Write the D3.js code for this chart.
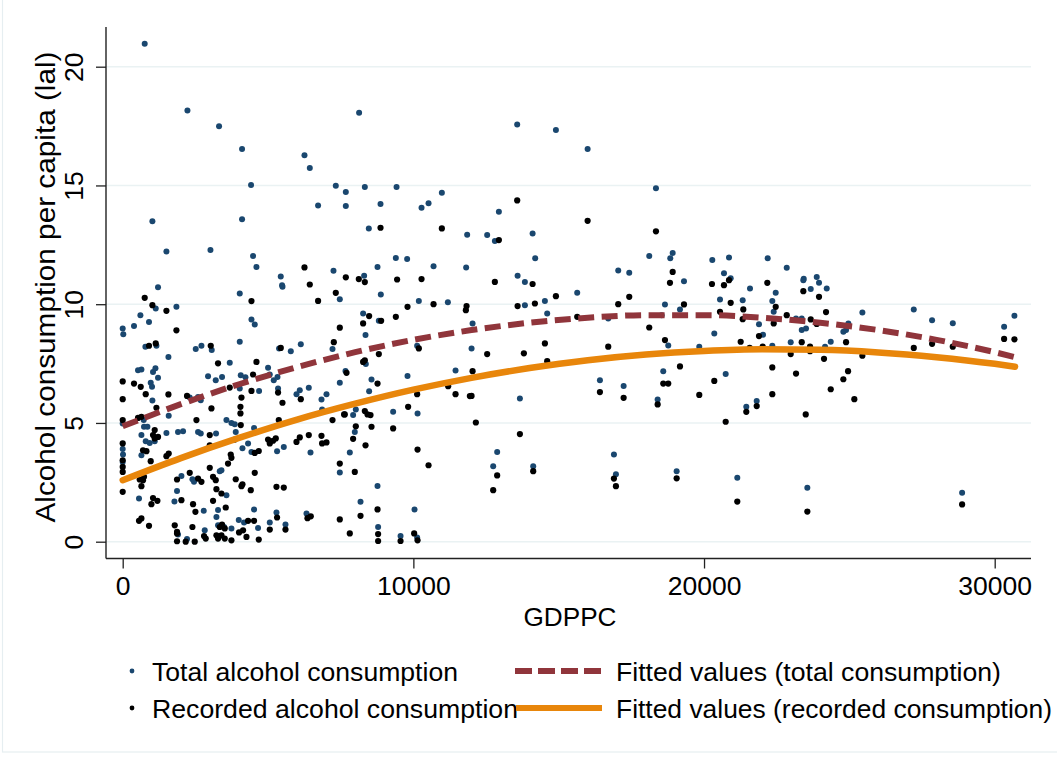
<!DOCTYPE html>
<html>
<head>
<meta charset="utf-8">
<title>Alcohol consumption vs GDPPC</title>
<script src="https://d3js.org/d3.v7.min.js"></script>
<style>
body { margin: 0; background: #fff; }
text { font-family: "Liberation Sans", Arial, Helvetica, sans-serif; fill: #000; }
</style>
</head>
<body>
<div id="canvas"></div>
<script>

// total alcohol consumption: [GDPPC, litres]
var totalPoints = [
 [1215,10.71],[1136,9.82],[1848,9.89],[609,9.54],[389,9.08],[905,9.25],[0,8.98],[20,8.74],[781,8.21],[1160,8.25],[1573,7.78],[527,7.22],[644,7.25],[1043,7.15],[1126,7.30],[1215,6.90],[964,6.69],[1009,6.52],[1022,5.95],[1583,5.30],[0,4.98],[723,5.12],[733,4.84],[850,4.84],[644,4.49],[1504,4.58],[1903,4.62],[2076,4.65],[0,3.90],[10,3.67],[0,3.36],[792,4.23],[929,4.16],[1101,4.23],[644,3.64],[561,1.82],[2020,2.77],[1869,2.14],[1780,1.69],[1903,0.30],[2213,0.11],[2306,6.07],[2513,8.11],[2709,8.25],[3063,8.07],[2936,6.97],[3201,6.80],[2592,6.09],[2685,5.96],[2592,4.62],[2685,4.56],[3211,4.56],[2399,2.63],[2454,2.52],[2788,1.30],[3280,1.33],[3225,1.04],[3280,0.69],[2822,0.48],
 [5497,10.73],[4027,10.45],[7469,10.21],[4430,9.36],[4543,9.15],[4027,8.42],[5380,8.14],[5783,8.02],[6127,8.31],[7218,8.11],[3683,7.53],[5001,7.32],[3418,6.94],[4062,7.01],[4223,6.92],[5060,7.04],[5197,6.80],[5325,6.94],[4027,6.45],[4692,6.35],[5345,6.45],[6092,6.38],[5979,6.21],[6402,6.48],[6839,5.99],[7011,6.21],[6860,5.57],[7469,6.69],[3569,5.12],[3741,5.00],[3855,4.95],[4519,4.79],[3889,4.62],[4120,3.93],[4313,4.14],[4430,3.78],[5311,3.81],[5542,3.99],[6461,3.76],[3397,3.01],[3339,2.97],[7469,2.91],[3569,1.96],[4519,1.36],[5290,1.23],[6323,1.19],[3993,0.91],[4175,0.81],[5060,0.81],[5600,0.72],[4657,0.58],[3487,0.62],[3741,0.56],
 [8880,10.41],[10188,10.14],[11187,10.08],[8271,9.61],[8812,9.30],[8354,8.70],[10130,8.25],[8364,7.48],[7665,7.19],[8560,6.83],[8478,6.34],[9799,6.98],[11451,7.21],[8020,5.57],[7927,5.33],[9304,5.47],[10144,5.40],[7985,4.62],[7813,3.76],[8767,2.35],[8182,1.68],[10040,1.36],[8787,0.62],[9559,0.24],[10130,0.18],
 [13837,10.94],[14525,10.14],[15637,10.48],[13837,9.96],[14604,9.61],[16704,9.40],[12037,9.19],[12002,8.14],[13665,6.03],[16418,6.80],[17234,6.56],[12883,3.78],[12746,3.18],[14123,3.18],[16900,3.67],[16969,2.84],
 [19310,10.97],[21581,10.66],[23416,11.01],[23671,10.64],[23956,10.90],[18656,9.99],[19172,9.78],[20549,10.20],[21330,10.17],[22349,10.14],[22466,10.48],[22397,9.68],[18542,9.54],[21891,9.16],[22029,8.71],[23165,9.40],[23361,9.40],[23361,8.91],[23509,8.98],[20353,8.77],[18769,8.26],[22349,8.25],[22982,8.40],[19836,8.21],[18597,7.18],[20745,7.06],[18404,5.99],[21454,5.68],[21812,5.92],[19058,2.97],[21144,2.69],[23554,2.27],
 [24221,10.66],[25447,9.65],[24965,9.19],[24793,8.84],[24886,8.91],[24359,8.42],[24163,8.21],[27216,9.78],[27846,9.32],[28558,9.20],[30324,9.05],[30679,9.51],[28879,2.06],
 [20284,11.86],[20859,11.97],[22190,11.93],[22845,11.53],[20686,11.30],[20917,11.09],[23430,11.07],[23877,11.15],
 [757,20.97],[2227,18.16],[3315,17.49],[4106,16.54],[8133,18.06],[6254,16.27],[6437,15.73],[4416,15.02],[7331,14.99],[7676,14.72],[8330,14.93],[9421,14.93],[6722,14.16],[7676,14.13],[8870,14.22],[1022,13.49],[4106,13.58],[8467,13.19],[1504,12.22],[3019,12.28],[4485,12.03],[4602,11.57],[9397,11.95],[8767,11.57],[5438,11.17],[7252,11.41],[8306,11.20],[5483,10.80],
 [13572,17.57],[14904,17.33],[15995,16.53],[18346,14.88],[10281,14.06],[10522,14.25],[10980,14.69],[12942,13.89],[11851,12.92],[12539,12.91],[12804,12.66],[14102,12.98],[14191,11.93],[9786,11.90],[10694,11.60],[11816,11.55],[13586,11.20],[18115,12.03],[18921,12.16],[18838,11.93],[17048,11.42],[17427,11.32]
];

// recorded alcohol consumption: [GDPPC, litres]
var recordedPoints = [
 [757,10.27],[1022,9.96],[1504,9.72],[1848,8.90],[905,8.25],[1136,8.35],[0,6.75],[389,6.66],[620,6.52],[792,6.21],[0,6.00],[1573,6.20],[1160,5.64],[0,5.12],[527,5.21],[644,5.26],[1101,4.70],[1043,4.49],[1215,4.41],[1101,4.35],[0,4.14],[0,3.43],[0,3.15],[0,2.94],[0,2.10],[699,3.85],[816,3.81],[964,3.39],[1504,3.60],[1583,3.71],[585,2.62],[699,2.59],[644,2.34],[733,2.73],[1043,1.84],[1194,1.72],[988,1.58],[561,0.88],[644,0.98],[905,0.67],[1869,2.62],[2020,1.75],[1790,0.69],[1869,0.41],[1869,0.02],[2168,0],[2213,6.14],[3029,8.25],[3280,7.51],[3053,5.61],[2537,5.12],[2995,4.49],[2995,4.06],[2306,2.90],[2592,2.66],[2709,2.52],[2995,3.11],[3108,2.73],[3201,2.59],[3225,2.21],[2420,1.58],[2502,1.26],[3108,1.72],[3225,0.27],[3280,0.13],[2399,0.62],[2798,0.24],[2857,0.13],[2478,0],[1869,0.35],
 [6437,10.83],[4430,10.13],[6722,10.14],[7331,10.48],[7469,9.01],[7263,8.40],[5438,8.16],[4602,7.57],[4485,7.04],[3683,6.49],[4086,6.07],[4051,5.68],[4051,5.40],[4430,6.35],[5345,6.28],[5497,5.85],[6127,6.00],[7218,5.12],[7617,5.36],[4062,4.91],[5370,5.12],[3855,4.30],[4543,3.74],[4681,3.82],[5001,4.30],[5060,4.14],[5173,4.25],[5266,4.35],[5979,4.20],[6092,4.39],[6402,4.49],[6839,4.46],[6860,4.14],[7011,4.18],[3717,3.67],[3741,3.53],[3624,3.29],[4543,2.90],[7469,3.29],[3889,2.63],[4086,2.34],[4120,2.42],[4406,2.17],[3397,2.03],[5290,2.31],[5542,2.28],[3545,1.44],[5311,1.02],[6357,0.99],[6471,1.07],[7469,0.94],[4313,0.88],[4519,0.88],[5600,0.51],[5060,0.51],[3339,0.62],[3418,0.72],[3511,0.56],[3397,0.27],[3511,0.13],[3741,0.06],[4003,0.39],[4141,0.48],[4258,0.20],[4681,0.09],
 [10694,10.00],[11830,9.92],[11806,9.75],[9799,9.89],[9397,9.47],[8478,9.50],[8271,9.19],[8891,9.30],[10188,8.14],[8330,7.64],[8271,7.57],[8812,7.90],[7700,7.11],[8767,6.66],[11197,6.55],[11451,6.21],[10130,6.21],[11944,6.13],[7641,5.36],[8330,5.50],[8423,5.36],[8526,5.33],[9820,5.68],[8020,4.86],[7927,4.33],[8560,4.84],[9304,4.77],[8354,4.06],[10144,3.88],[10522,3.22],[7985,2.94],[8767,1.36],[8182,1.09],[7813,0.35],[8787,0.32],[8787,0.03],[9559,0.03],[10027,0.35],[10144,0.06],
 [12804,10.94],[14102,10.85],[14904,10.34],[13586,9.92],[14181,10.03],[17048,10.00],[17427,10.31],[15637,9.47],[12539,7.90],[13802,7.93],[14525,8.35],[14604,7.60],[16704,8.21],[12037,7.18],[12002,6.14],[16418,6.30],[17234,6.06],[12150,5.02],[13665,4.53],[12883,2.79],[12746,2.17],[14123,2.97],[16900,2.66],[16969,2.34],
 [18828,10.90],[20273,10.85],[20686,10.80],[20859,11.01],[22177,10.90],[23416,10.55],[23956,10.31],[19310,9.99],[20549,9.68],[20917,10.06],[21351,9.78],[22466,9.89],[22845,9.54],[18115,9.02],[21330,9.37],[21891,8.66],[22397,9.19],[23671,9.36],[23877,9.17],[18656,8.49],[21261,8.42],[21571,8.16],[22018,8.21],[23361,8.40],[22982,7.90],[23647,8.21],[23647,8.02],[19172,7.38],[18597,6.66],[18769,6.66],[20353,6.77],[22349,7.34],[22349,6.21],[23165,7.08],[24128,7.70],[18404,5.78],[19836,6.18],[21454,5.47],[21812,5.71],[23499,5.36],[20745,5.05],[19058,2.67],[21144,1.69],[23554,1.27],
 [24197,9.67],[24886,8.40],[25447,7.83],[24955,7.18],[24793,6.84],[24359,6.42],[25171,6.00],[27216,8.16],[27846,8.33],[28558,8.21],[30324,8.54],[30679,8.52],[28879,1.57],
 [8870,13.22],[6254,11.55],[7676,11.13],[8123,11.06],[8330,10.93],[9441,11.04],[13572,14.37],[15995,13.51],[18346,13.07],[10980,13.19],[12942,12.70],[18921,11.36],[10281,11.06]
];

// fitted curves
var fitX        = [0, 2000, 4000, 6000, 8000, 10000, 12000, 14000, 16000, 18000, 20000, 22000, 24000, 26000, 28000, 30000, 30700];
var fitTotal    = [4.86, 5.79, 6.63, 7.35, 7.98, 8.50, 8.91, 9.22, 9.43, 9.54, 9.54, 9.43, 9.22, 8.91, 8.50, 7.98, 7.77];
var fitRecorded = [2.59, 3.52, 4.37, 5.14, 5.81, 6.40, 6.90, 7.31, 7.64, 7.88, 8.03, 8.10, 8.08, 7.97, 7.77, 7.49, 7.37];

var xTicks = [0, 10000, 20000, 30000];
var yTicks = [0, 5, 10, 15, 20];

var legendItems = [
  ["Total alcohol consumption", "Fitted values (total consumption)"],
  ["Recorded alcohol consumption", "Fitted values (recorded consumption)"]
];
// widths of the legend labels in the picture (left / right column)
var legendWidths = [[306, 385], [366, 436]];

var navy = "#1a476f", maroon = "#90353b", orange = "#e8860b", grid = "#eaf2f3";

var W = 1057, H = 767;
var plot = {left: 106, right: 1031, top: 27, bottom: 558.5};

var svg = d3.select("#canvas").append("svg")
            .attr("width", W)
            .attr("height", H);

// faint outer frame of the graph region
svg.append("rect")
   .attr("x", 2.5).attr("y", -2)
   .attr("width", W + 4).attr("height", 754)
   .attr("fill", "none")
   .attr("stroke", "#e6eef1")
   .attr("stroke-width", 1.2);

var x = d3.scaleLinear().domain([0, 30000]).range([122.7, 994.7]);
var y = d3.scaleLinear().domain([0, 20]).range([541.7, 66.7]);

// gridlines
svg.append("g").selectAll("line")
   .data(yTicks)
   .enter().append("line")
   .attr("x1", plot.left).attr("x2", plot.right)
   .attr("y1", function(d) { return y(d); })
   .attr("y2", function(d) { return y(d); })
   .attr("stroke", grid)
   .attr("stroke-width", 1.6);

// y axis
var yAxis = svg.append("g")
   .attr("transform", "translate(" + plot.left + ",0)")
   .call(d3.axisLeft(y).tickValues(yTicks).tickSize(10).tickPadding(0).tickFormat(d3.format("d")));
yAxis.select(".domain").remove();
yAxis.selectAll(".tick line").attr("stroke", "#222").attr("stroke-width", 1.3);
yAxis.selectAll(".tick text")
     .attr("x", null).attr("dy", null)
     .attr("transform", "translate(-23,0) rotate(-90)")
     .attr("text-anchor", "middle")
     .style("font-size", "26.5px")
     .style("font-family", "Liberation Sans, Arial, sans-serif");

// x axis
var xAxis = svg.append("g")
   .attr("transform", "translate(0," + plot.bottom + ")")
   .call(d3.axisBottom(x).tickValues(xTicks).tickSize(10).tickPadding(0).tickFormat(d3.format("d")));
xAxis.select(".domain").remove();
xAxis.selectAll(".tick line").attr("stroke", "#222").attr("stroke-width", 1.3);
xAxis.selectAll(".tick text")
     .attr("y", 36.5).attr("dy", null)
     .style("font-size", "26.5px")
     .style("font-family", "Liberation Sans, Arial, sans-serif");

// axis lines
svg.append("line")
   .attr("x1", plot.left).attr("x2", plot.left)
   .attr("y1", plot.top).attr("y2", plot.bottom)
   .attr("stroke", "#222").attr("stroke-width", 1.4);
svg.append("line")
   .attr("x1", plot.left).attr("x2", plot.right)
   .attr("y1", plot.bottom).attr("y2", plot.bottom)
   .attr("stroke", "#222").attr("stroke-width", 1.4);

// axis titles
svg.append("text")
   .attr("transform", "translate(55,287) rotate(-90)")
   .attr("text-anchor", "middle")
   .attr("textLength", 471)
   .attr("lengthAdjust", "spacingAndGlyphs")
   .style("font-size", "28px")
   .text("Alcohol consumption per capita (lal)");

svg.append("text")
   .attr("x", 570).attr("y", 626)
   .attr("text-anchor", "middle")
   .attr("textLength", 93)
   .attr("lengthAdjust", "spacingAndGlyphs")
   .style("font-size", "26px")
   .text("GDPPC");

// scatter points
svg.append("g").selectAll("circle")
   .data(totalPoints)
   .enter().append("circle")
   .attr("cx", function(d) { return x(d[0]); })
   .attr("cy", function(d) { return y(d[1]); })
   .attr("r", 3)
   .attr("fill", navy);

svg.append("g").selectAll("circle")
   .data(recordedPoints)
   .enter().append("circle")
   .attr("cx", function(d) { return x(d[0]); })
   .attr("cy", function(d) { return y(d[1]); })
   .attr("r", 3.1)
   .attr("fill", "#000");

// fitted lines
var line = d3.line()
   .x(function(d) { return x(d[0]); })
   .y(function(d) { return y(d[1]); })
   .curve(d3.curveMonotoneX);

svg.append("path")
   .datum(fitX.map(function(v, i) { return [v, fitTotal[i]]; }))
   .attr("d", line)
   .attr("fill", "none")
   .attr("stroke", maroon)
   .attr("stroke-width", 6)
   .attr("stroke-dasharray", "16,7.5");

svg.append("path")
   .datum(fitX.map(function(v, i) { return [v, fitRecorded[i]]; }))
   .attr("d", line)
   .attr("fill", "none")
   .attr("stroke", orange)
   .attr("stroke-width", 6.5)
   .attr("stroke-linecap", "round");

// legend
var rowY = [671, 708];
var legend = svg.append("g");

legend.selectAll(".dot")
   .data(rowY)
   .enter().append("circle")
   .attr("cx", 132)
   .attr("cy", function(d) { return d; })
   .attr("r", 2.4)
   .attr("fill", function(d, i) { return i == 0 ? navy : "#000"; });

legend.selectAll(".lab1")
   .data(legendItems)
   .enter().append("text")
   .attr("x", 152)
   .attr("y", function(d, i) { return rowY[i] + 9.5; })
   .attr("textLength", function(d, i) { return legendWidths[i][0]; })
   .attr("lengthAdjust", "spacingAndGlyphs")
   .style("font-size", "26px")
   .text(function(d) { return d[0]; });

legend.append("line")
   .attr("x1", 515).attr("x2", 601)
   .attr("y1", rowY[0]).attr("y2", rowY[0])
   .attr("stroke", maroon).attr("stroke-width", 6)
   .attr("stroke-dasharray", "17,6");

legend.append("line")
   .attr("x1", 516).attr("x2", 602)
   .attr("y1", rowY[1]).attr("y2", rowY[1])
   .attr("stroke", orange).attr("stroke-width", 6);

legend.selectAll(".lab2")
   .data(legendItems)
   .enter().append("text")
   .attr("x", 616)
   .attr("y", function(d, i) { return rowY[i] + 9.5; })
   .attr("textLength", function(d, i) { return legendWidths[i][1]; })
   .attr("lengthAdjust", "spacingAndGlyphs")
   .style("font-size", "26px")
   .text(function(d) { return d[1]; });

</script>
</body>
</html>
